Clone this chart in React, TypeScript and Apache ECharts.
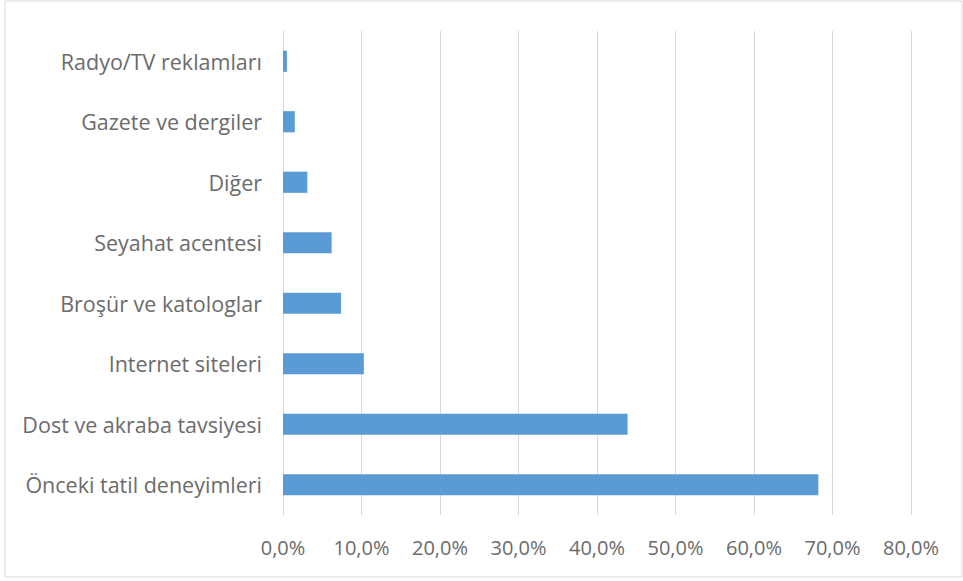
import React, { useEffect, useRef } from "react";
import * as echarts from "echarts";

const categories = [
  "Önceki tatil deneyimleri",
  "Dost ve akraba tavsiyesi",
  "Internet siteleri",
  "Broşür ve katologlar",
  "Seyahat acentesi",
  "Diğer",
  "Gazete ve dergiler",
  "Radyo/TV reklamları",
];
const values = [68.2, 43.9, 10.3, 7.4, 6.2, 3.1, 1.5, 0.5];
const xTicks = { min: 0, max: 80, interval: 10 };

export default function App() {
  const ref = useRef<HTMLDivElement>(null);
  useEffect(() => {
    if (!ref.current) return;
    const chart = echarts.init(ref.current, null, { renderer: "svg" });
    chart.setOption({
      animation: false,
      backgroundColor: "#ffffff",
      graphic: [
        {
          type: "rect",
          shape: { x: 5, y: 1, width: 957, height: 576 },
          style: { fill: "none", stroke: "#d9d9d9", lineWidth: 1 },
          silent: true,
        },
      ],
      grid: { left: 283, right: 52, top: 31, bottom: 66, containLabel: false },
      xAxis: {
        type: "value",
        min: xTicks.min,
        max: xTicks.max,
        interval: xTicks.interval,
        axisLine: { show: false },
        axisTick: { show: false },
        splitLine: { show: true, lineStyle: { color: "#d9d9d9", width: 1 } },
        axisLabel: {
          formatter: (v: number) => v.toFixed(1).replace(".", ",") + "%",
          color: "#6b6b6b",
          fontSize: 20,
          fontFamily: "Open Sans",
          margin: 22,
        },
      },
      yAxis: {
        type: "category",
        data: categories,
        axisLine: { show: true, lineStyle: { color: "#d9d9d9" } },
        axisTick: { show: false },
        axisLabel: {
          color: "#6b6b6b",
          fontSize: 21.5,
          fontFamily: "Open Sans",
          margin: 21,
        },
      },
      series: [
        {
          type: "bar",
          data: values,
          barWidth: "35%",
          itemStyle: { color: "#5b9bd5" },
        },
      ],
    });
    return () => chart.dispose();
  }, []);
  return (
    <div
      ref={ref}
      style={{ position: "fixed", left: 0, top: 0, width: 963, height: 581 }}
    />
  );
}
